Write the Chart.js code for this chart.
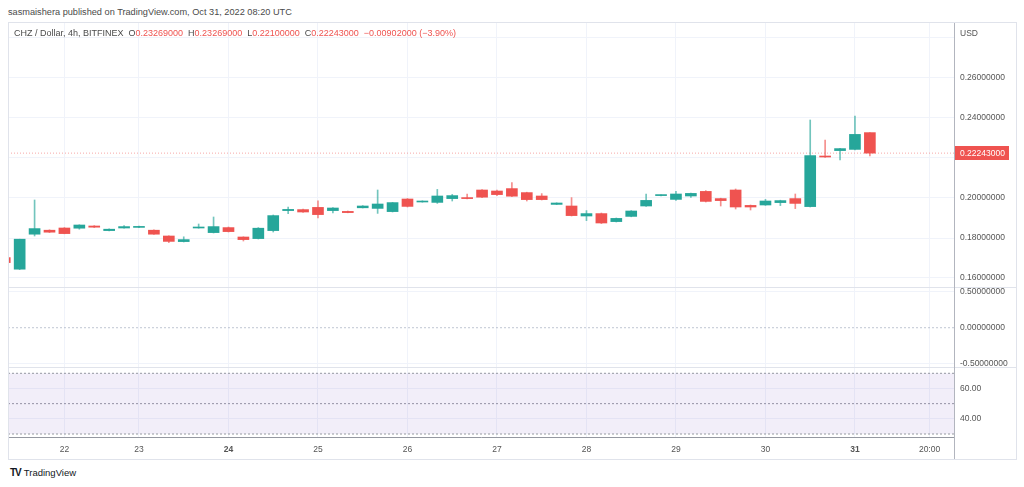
<!DOCTYPE html>
<html>
<head>
<meta charset="utf-8">
<script src="https://cdn.jsdelivr.net/npm/chart.js@4.4.0/dist/chart.umd.min.js"></script>
<style>
body { margin:0; background:#fff; width:1024px; height:487px; overflow:hidden; position:relative; font-family:"Liberation Sans", Arial, sans-serif; }
.abs { position:absolute; }
canvas { position:absolute; left:8px; }
#pub { left:8px; top:7px; font-size:9.2px; color:#4a4a4a; white-space:nowrap; }
#legend { left:14px; top:28px; font-size:9px; color:#4a4a4a; white-space:nowrap; }
#legend .v { color:#ef5350; }
#usd { left:960px; top:28px; font-size:8.5px; color:#555; }
#frame { left:8px; top:22px; width:1007px; height:436px; border:1px solid #e0e3eb; pointer-events:none; }
.sep { left:8px; width:1008px; height:1px; background:#e0e3eb; }
#axisLine { left:954px; top:23px; width:1px; height:436px; background:#b2b5be; }
#logo { left:10px; top:467px; font-size:9.5px; color:#131722; white-space:nowrap; }
#logo b { font-size:10px; letter-spacing:-1px; margin-right:3px; }
</style>
</head>
<body>
<div id="pub" class="abs">sasmaishera published on TradingView.com, Oct 31, 2022 08:20 UTC</div>

<canvas id="price" width="1008" height="264" style="top:23px"></canvas>
<canvas id="osc" width="1008" height="79" style="top:288px"></canvas>
<canvas id="rsi" width="1008" height="91" style="top:368px"></canvas>

<div class="abs sep" style="top:287px"></div>
<div class="abs sep" style="top:367px"></div>
<div id="axisLine" class="abs"></div>
<div id="frame" class="abs"></div>

<div id="legend" class="abs">CHZ / Dollar, 4h, BITFINEX &nbsp;O<span class="v">0.23269000</span> &nbsp;H<span class="v">0.23269000</span> &nbsp;L<span class="v">0.22100000</span> &nbsp;C<span class="v">0.22243000</span> &nbsp;<span class="v">−0.00902000 (−3.90%)</span></div>
<div id="usd" class="abs">USD</div>
<div id="logo" class="abs"><b>TV</b>TradingView</div>

<script>
// CHZ / USD, 4h candles, Oct 21 - Oct 31 2022
var opens  = [0.1702, 0.1644, 0.1819, 0.1839, 0.1850, 0.1849, 0.1860, 0.1837, 0.1850, 0.1853,
              0.1839, 0.1810, 0.1782, 0.1850, 0.1827, 0.1852, 0.1805, 0.1797, 0.1837, 0.1937,
              0.1942, 0.1953, 0.1937, 0.1933, 0.1951, 0.1948, 0.1932, 0.1995, 0.1980, 0.1978,
              0.1997, 0.2002, 0.2040, 0.2035, 0.2047, 0.2027, 0.2010, 0.1968, 0.1960, 0.1910,
              0.1922, 0.1882, 0.1908, 0.1960, 0.2012, 0.1993, 0.2010, 0.2033, 0.1997, 0.2040,
              0.1963, 0.1965, 0.1977, 0.1997, 0.1957, 0.2210, 0.2237, 0.2243, 0.23269];
var highs  = [0.1704, 0.1794, 0.1990, 0.1841, 0.1852, 0.1866, 0.1862, 0.1846, 0.1862, 0.1860,
              0.1841, 0.1811, 0.1806, 0.1870, 0.1905, 0.1855, 0.1806, 0.1852, 0.1915, 0.1955,
              0.1945, 0.1986, 0.1952, 0.1935, 0.1962, 0.2040, 0.1978, 0.1997, 0.1986, 0.2043,
              0.2018, 0.2020, 0.2042, 0.2040, 0.2077, 0.2029, 0.2022, 0.1976, 0.2002, 0.1937,
              0.1925, 0.1900, 0.1937, 0.2020, 0.2016, 0.2033, 0.2025, 0.2037, 0.1999, 0.2045,
              0.1965, 0.1993, 0.1989, 0.2020, 0.2390, 0.2290, 0.2248, 0.2410, 0.23269];
var lows   = [0.1676, 0.1642, 0.1810, 0.1827, 0.1821, 0.1844, 0.1852, 0.1836, 0.1849, 0.1852,
              0.1818, 0.1777, 0.1780, 0.1849, 0.1825, 0.1830, 0.1785, 0.1795, 0.1830, 0.1922,
              0.1928, 0.1901, 0.1926, 0.1926, 0.1950, 0.1923, 0.1930, 0.1955, 0.1979, 0.1973,
              0.1985, 0.1996, 0.2002, 0.2012, 0.2007, 0.1985, 0.1990, 0.1967, 0.1910, 0.1887,
              0.1872, 0.1880, 0.1906, 0.1958, 0.2010, 0.1988, 0.2003, 0.1980, 0.1960, 0.1945,
              0.1940, 0.1963, 0.1962, 0.1947, 0.1955, 0.2203, 0.2190, 0.2241, 0.2210];
var closes = [0.1677, 0.1794, 0.1847, 0.1829, 0.1822, 0.1865, 0.1854, 0.1844, 0.1857, 0.1856,
              0.1819, 0.1783, 0.1792, 0.1855, 0.1857, 0.1832, 0.1792, 0.1849, 0.1912, 0.1943,
              0.1930, 0.1917, 0.1950, 0.1927, 0.1960, 0.1970, 0.1977, 0.1958, 0.1985, 0.2010,
              0.2012, 0.1997, 0.2004, 0.2017, 0.2009, 0.1992, 0.1992, 0.1975, 0.1912, 0.1922,
              0.1875, 0.1898, 0.1935, 0.1988, 0.2015, 0.2020, 0.2023, 0.1983, 0.1987, 0.1955,
              0.1955, 0.1985, 0.1987, 0.1973, 0.2212, 0.2205, 0.2247, 0.2318, 0.22243];

var dayTicks   = [4, 9, 15, 21, 27, 33, 39, 45, 51, 57, 62];
var dayLabels  = ['22', '23', '24', '25', '26', '27', '28', '29', '30', '31', '20:00'];
var boldLabels = ['24', '31'];

var priceTicks = [0.16, 0.18, 0.20, 0.22, 0.24, 0.26, 0.28];
var oscTicks   = [-0.5, 0, 0.5];
var rsiTicks   = [40, 60];
var rsiLevels  = [70, 30, 50];

var lastClose = closes[closes.length - 1];

var FONT = '"Liberation Sans", Arial, sans-serif';
var GRID = '#f0f3fa';
var UP = '#26a69a', DOWN = '#ef5350';
var xMin = 0.218, xMax = 63.64;

function xScale(showLabels) {
    return {
        type: 'linear', min: xMin, max: xMax, offset: false,
        afterBuildTicks: function(s) { s.ticks = dayTicks.map(function(v) { return {value: v}; }); },
        grid: {color: GRID, drawTicks: false, offset: false},
        border: {display: showLabels, color: '#9598a1'},
        ticks: {
            display: showLabels, autoSkip: false, maxRotation: 0, padding: 8, color: '#555',
            font: function(c) {
                var lab = c.tick ? dayLabels[dayTicks.indexOf(c.tick.value)] : '';
                return {family: FONT, size: 8.5, weight: boldLabels.indexOf(lab) >= 0 ? 'bold' : 'normal'};
            },
            callback: function(v) { return dayLabels[dayTicks.indexOf(v)]; }
        },
        afterFit: function(s) { s.height = showLabels ? 22 : 0; s.paddingLeft = 0; s.paddingRight = 0; }
    };
}

function yScale(min, max, ticks, fmt, gridColor) {
    return {
        position: 'right', min: min, max: max,
        afterBuildTicks: function(s) { s.ticks = ticks.map(function(v) { return {value: v}; }); },
        grid: {color: gridColor || GRID, drawTicks: false},
        border: {display: false},
        ticks: {color: '#555', padding: 6, font: {family: FONT, size: 8.5}, callback: fmt},
        afterFit: function(s) { s.width = 62; s.paddingTop = 0; s.paddingBottom = 0; }
    };
}

var baseOpts = {
    responsive: false, animation: false,
    layout: {padding: 0},
    plugins: {legend: {display: false}, tooltip: {enabled: false}}
};

function flat(v) { return [{x: xMin, y: v}, {x: xMax, y: v}]; }

// candles
var bodies = [], wicks = [], colors = [], wickColors = [];
for (var i = 0; i < closes.length; i++) {
    bodies.push({x: i, y: [opens[i], closes[i]]});
    wicks.push({x: i, y: [lows[i], highs[i]]});
    var up = closes[i] >= opens[i];
    colors.push(up ? UP : DOWN);
    wickColors.push(up ? 'rgba(38,166,154,0.65)' : 'rgba(239,83,80,0.65)');
}

var priceTag = {
    id: 'priceTag',
    afterDraw: function(chart) {
        var y = Math.round(chart.scales.y.getPixelForValue(lastClose));
        var x = chart.chartArea.right + 1;
        var ctx = chart.ctx;
        ctx.save();
        ctx.fillStyle = DOWN;
        ctx.fillRect(x, y - 7, 54, 14);
        ctx.fillStyle = '#fff';
        ctx.font = '8.5px ' + FONT;
        ctx.textBaseline = 'middle';
        ctx.fillText(lastClose.toFixed(8), x + 5, y + 0.5);
        ctx.restore();
    }
};

new Chart(document.getElementById('price'), {
    type: 'bar',
    data: {
        datasets: [
            {data: wicks, backgroundColor: wickColors, barThickness: 1, grouped: false, order: 2},
            {data: bodies, backgroundColor: colors, barThickness: 11, minBarLength: 1, grouped: false, order: 1},
            {type: 'line', data: flat(lastClose), borderColor: 'rgba(239,83,80,0.5)', borderWidth: 1,
             borderDash: [1, 2], pointRadius: 0, order: 3}
        ]
    },
    options: Object.assign({}, baseOpts, {
        scales: {
            x: xScale(false),
            y: yScale(0.1555, 0.2875, priceTicks, function(v) {
                return v > 0.27 ? '' : v.toFixed(8);
            })
        }
    }),
    plugins: [priceTag]
});

new Chart(document.getElementById('osc'), {
    type: 'line',
    data: {
        datasets: [
            {data: flat(0), borderColor: 'rgba(149,160,180,0.6)', borderWidth: 1, borderDash: [2, 2], pointRadius: 0}
        ]
    },
    options: Object.assign({}, baseOpts, {
        scales: {
            x: xScale(false),
            y: yScale(-0.548, 0.554, oscTicks, function(v) { return v.toFixed(8); },
                function(c) { return c.tick && c.tick.value === 0 ? 'rgba(0,0,0,0)' : GRID; })
        }
    })
});

new Chart(document.getElementById('rsi'), {
    type: 'line',
    data: {
        datasets: [
            {data: flat(rsiLevels[0]), borderColor: '#9598a1', borderWidth: 1, borderDash: [2, 2], pointRadius: 0, fill: false},
            {data: flat(rsiLevels[1]), borderColor: '#9598a1', borderWidth: 1, borderDash: [2, 2], pointRadius: 0,
             fill: '-1', backgroundColor: 'rgba(126,87,194,0.1)'},
            {data: flat(rsiLevels[2]), borderColor: '#9598a1', borderWidth: 1, borderDash: [2, 2], pointRadius: 0, fill: false}
        ]
    },
    options: Object.assign({}, baseOpts, {
        scales: {
            x: xScale(true),
            y: yScale(28.02, 73.49, rsiTicks, function(v) { return v.toFixed(2); })
        }
    })
});
</script>
</body>
</html>
